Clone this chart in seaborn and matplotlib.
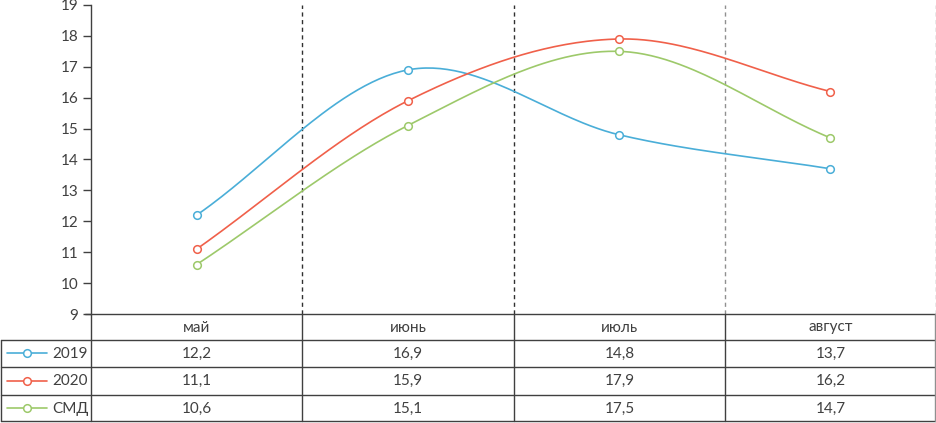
import numpy as np
import pandas as pd
import matplotlib
matplotlib.use("Agg")
import matplotlib.pyplot as plt
import seaborn as sns

categories = ["май", "июнь", "июль", "август"]
series_names = ["2019", "2020", "СМД"]
values_2019 = [12.2, 16.9, 14.8, 13.7]
values_2020 = [11.1, 15.9, 17.9, 16.2]
values_smd = [10.6, 15.1, 17.5, 14.7]
series_values = [values_2019, values_2020, values_smd]
value_labels = [["12,2", "16,9", "14,8", "13,7"],
                ["11,1", "15,9", "17,9", "16,2"],
                ["10,6", "15,1", "17,5", "14,7"]]
colors = ["#4aaed8", "#f0604a", "#9dc96a"]
y_ticks = list(range(9, 20))

sns.set_theme(style="white")
plt.rcParams["font.family"] = ["Lato", "DejaVu Sans"]

W, H = 937, 423
fig = plt.figure(figsize=(W / 100, H / 100), dpi=100)

def px(x0, y0, x1, y1):
    return [x0 / W, 1 - y1 / H, (x1 - x0) / W, (y1 - y0) / H]


def smooth(y, n=60):
    # Excel-like smoothed line (Catmull-Rom, end tangents = chord)
    y = np.asarray(y, float)
    k = len(y)
    m = np.zeros(k)
    m[0] = y[1] - y[0]
    m[-1] = y[-1] - y[-2]
    for i in range(1, k - 1):
        m[i] = (y[i + 1] - y[i - 1]) / 2
    xs, ys = [], []
    t = np.linspace(0, 1, n)
    h00 = 2 * t**3 - 3 * t**2 + 1
    h10 = t**3 - 2 * t**2 + t
    h01 = -2 * t**3 + 3 * t**2
    h11 = t**3 - t**2
    for i in range(k - 1):
        xs.append(i + t)
        ys.append(h00 * y[i] + h10 * m[i] + h01 * y[i + 1] + h11 * m[i + 1])
    return np.concatenate(xs), np.concatenate(ys)

ax = fig.add_axes(px(91, 5, 936, 314))
rows = []
for name, vals in zip(series_names, series_values):
    xs, ys = smooth(vals)
    rows.append(pd.DataFrame({"x": xs, "y": ys, "series": name}))
df = pd.concat(rows, ignore_index=True)
sns.lineplot(data=df, x="x", y="y", hue="series", palette=colors, sort=False,
             estimator=None, linewidth=1.2, legend=False, ax=ax, zorder=3)
for vals, c in zip(series_values, colors):
    ax.plot(range(len(categories)), vals, linestyle="none", marker="o",
            markersize=5.5, markerfacecolor="white", markeredgecolor=c,
            markeredgewidth=1.1, zorder=4)

ax.set_xlim(-0.5, 3.5)
ax.set_ylim(9, 19)
ax.set_yticks(y_ticks)
ax.set_yticklabels([str(v) for v in y_ticks], fontsize=11, color="#404040")
ax.set_xticks([])
ax.set_xlabel("")
ax.set_ylabel("")
ax.tick_params(axis="y", direction="out", length=6, width=1, color="#404040",
               left=True, pad=3)
for s in ["top", "right", "bottom"]:
    ax.spines[s].set_visible(False)
ax.spines["left"].set_color("#404040")
ax.spines["left"].set_linewidth(1)
ax.patch.set_alpha(0)
for xb, col in [(0.5, "#303030"), (1.5, "#303030"), (2.5, "#909090"), (3.5, "#909090")]:
    ax.axvline(xb, color=col, linestyle=(0, (3, 2.5)), linewidth=1, zorder=1)

# Data table
tb = fig.add_axes([0, 0, 1, 1])
tb.set_xlim(0, W)
tb.set_ylim(H, 0)
tb.axis("off")
tb.patch.set_alpha(0)
lc = "#404040"
lw = 1
tb.plot([85, 936], [314, 314], color=lc, lw=lw)
for yy in [340, 367, 395, 421.5]:
    tb.plot([0.5, 936], [yy, yy], color=lc, lw=lw)
tb.plot([0.5, 0.5], [340, 421.5], color=lc, lw=lw)
for xx in [91, 302, 514, 725]:
    tb.plot([xx, xx], [314, 421.5], color=lc, lw=lw)
tb.plot([935.5, 935.5], [314, 421.5], color="#909090", lw=lw)

col_centers = [196.5, 408, 619.5, 830.5]
for cx, cat in zip(col_centers, categories):
    tb.text(cx, 327.5, cat, ha="center", va="center", fontsize=11, color="#404040")
row_centers = [353.5, 381, 408.5]
for ry, name, labs, c in zip(row_centers, series_names, value_labels, colors):
    tb.plot([7, 47], [ry, ry], color=c, lw=1.2)
    tb.plot([27], [ry], marker="o", markersize=5.5, markerfacecolor="white",
            markeredgecolor=c, markeredgewidth=1.1)
    tb.text(52, ry, name, ha="left", va="center", fontsize=11, color="#404040")
    for cx, lab in zip(col_centers, labs):
        tb.text(cx, ry, lab, ha="center", va="center", fontsize=11, color="#404040")

fig.savefig("out.png", dpi=100)
